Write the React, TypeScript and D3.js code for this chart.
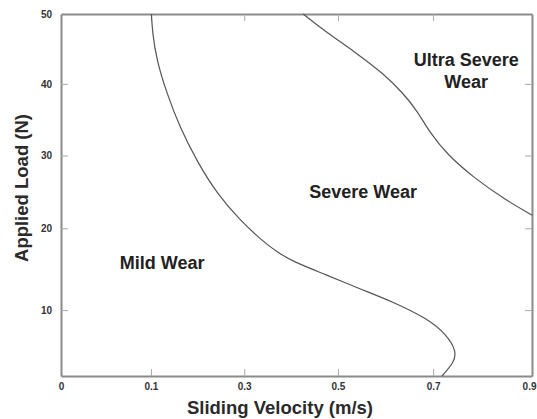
import React, { useEffect, useRef } from 'react';
import * as d3 from 'd3';

// tick values as printed on the original figure (spacing is uneven there)
const velocityTicks = [0, 0.1, 0.3, 0.5, 0.7, 0.9];
const velocityLabels = ['0', '0.1', '0.3', '0.5', '0.7', '0.9'];
const loadTicks = [2, 10, 20, 30, 40, 50];
const loadLabels = ['', '10', '20', '30', '40', '50'];

// boundary between mild and severe wear (velocity m/s, load N)
const mildSevere: [number, number][] = [
  [0.101, 50], [0.103, 47.5], [0.112, 43.4], [0.134, 38.7], [0.162, 33.9], [0.198, 29.3],
  [0.241, 24.8], [0.291, 21.1], [0.338, 18.5], [0.37, 17.1], [0.405, 15.9],
  [0.476, 14.3], [0.546, 12.6], [0.616, 11.0], [0.687, 9.0], [0.728, 7.0],
  [0.747, 5.0], [0.743, 3.7], [0.718, 2],
];

// boundary between severe and ultra severe wear
const severeUltra: [number, number][] = [
  [0.426, 50], [0.469, 47.7], [0.539, 44.4], [0.595, 41.5], [0.637, 38.7],
  [0.666, 36.3], [0.694, 33.1], [0.728, 30.2], [0.781, 27.0], [0.849, 23.8],
  [0.9, 21.8],
];

const regions = [
  { lines: ['Mild Wear'], v: 0.124, load: 15.0 },
  { lines: ['Severe Wear'], v: 0.553, load: 24.2 },
  { lines: ['Ultra Severe', 'Wear'], v: 0.767, load: 42.5 },
];

const W = 537;
const H = 419;
const margin = { top: 14, right: 5, bottom: 43, left: 61 };
const font = 'Liberation Sans, Arial, sans-serif';

const WearMap = () => {
  const ref = useRef<SVGSVGElement>(null);

  useEffect(() => {
    const svg = d3.select(ref.current);
    svg.selectAll('*').remove();

    const iw = W - margin.left - margin.right;
    const ih = H - margin.top - margin.bottom;

    // piecewise scales reproduce the uneven tick spacing of the figure
    const x = d3
      .scaleLinear()
      .domain(velocityTicks)
      .range([0, 0.191, 0.389, 0.588, 0.79, 1].map(f => margin.left + f * iw));
    const y = d3
      .scaleLinear()
      .domain(loadTicks)
      .range([1, 0.818, 0.592, 0.391, 0.193, 0].map(f => margin.top + f * ih));

    const axisColor = '#8a8a8a';
    const g = svg.append('g');

    const styleAxis = sel => {
      sel.select('.domain').attr('stroke', axisColor).attr('stroke-width', 2);
      sel.selectAll('.tick line').attr('stroke', '#aaa').attr('stroke-width', 1);
      sel.selectAll('.tick text')
        .attr('fill', '#333')
        .attr('font-family', font)
        .attr('font-weight', 'bold')
        .attr('font-size', 10);
    };

    const inner = velocityTicks.slice(1, -1);
    const innerLoad = loadTicks.slice(1, -1);

    g.append('g')
      .attr('transform', `translate(0,${margin.top + ih})`)
      .call(
        d3.axisBottom(x)
          .tickValues(velocityTicks)
          .tickSize(-7)
          .tickPadding(6)
          .tickFormat((d, i) => velocityLabels[i])
          .tickSizeOuter(0)
      )
      .call(styleAxis)
      .call(s => s.selectAll('.tick').filter(d => !inner.includes(d)).select('line').remove())
      .call(s => s.selectAll('.tick text').attr('dy', '0.71em').attr('y', 7))
      // last label sits on the right edge; keep it inside the picture
      .call(s => s.selectAll('.tick').filter(d => d === 0.9).select('text')
        .attr('text-anchor', 'end').attr('x', 4));

    g.append('g')
      .attr('transform', `translate(${margin.left},0)`)
      .call(
        d3.axisLeft(y)
          .tickValues(loadTicks)
          .tickSize(-7)
          .tickPadding(9)
          .tickFormat((d, i) => loadLabels[i])
          .tickSizeOuter(0)
      )
      .call(styleAxis)
      .call(s => s.selectAll('.tick').filter(d => !innerLoad.includes(d)).select('line').remove());

    g.append('g')
      .attr('transform', `translate(0,${margin.top})`)
      .call(d3.axisTop(x).tickValues(inner).tickSize(-7).tickFormat(() => '').tickSizeOuter(0))
      .call(styleAxis);

    g.append('g')
      .attr('transform', `translate(${margin.left + iw},0)`)
      .call(d3.axisRight(y).tickValues(innerLoad).tickSize(-7).tickFormat(() => '').tickSizeOuter(0))
      .call(styleAxis);

    const line = d3
      .line<[number, number]>()
      .x(d => x(d[0]))
      .y(d => y(d[1]))
      .curve(d3.curveBasis);

    [mildSevere, severeUltra].forEach(pts => {
      svg.append('path')
        .attr('d', line(pts))
        .attr('fill', 'none')
        .attr('stroke', '#555')
        .attr('stroke-width', 1.2);
    });

    regions.forEach(r => {
      const t = svg.append('text')
        .attr('x', x(r.v))
        .attr('y', y(r.load))
        .attr('text-anchor', 'middle')
        .attr('font-family', font)
        .attr('font-weight', 'bold')
        .attr('font-size', 18)
        .attr('fill', '#222');
      r.lines.forEach((l, i) => {
        t.append('tspan').attr('x', x(r.v)).attr('dy', i === 0 ? 0 : 21.5).text(l);
      });
    });

    svg.append('text')
      .attr('x', 280)
      .attr('y', 414)
      .attr('text-anchor', 'middle')
      .attr('font-family', font)
      .attr('font-weight', 'bold')
      .attr('font-size', 18.5)
      .attr('fill', '#2a2a2a')
      .text('Sliding Velocity (m/s)');

    svg.append('text')
      .attr('transform', `translate(28,${188}) rotate(-90)`)
      .attr('text-anchor', 'middle')
      .attr('font-family', font)
      .attr('font-weight', 'bold')
      .attr('font-size', 18.5)
      .attr('fill', '#2a2a2a')
      .text('Applied Load (N)');
  }, []);

  return (
    <svg
      ref={ref}
      width={W}
      height={H}
      style={{ position: 'absolute', left: 0, top: 0, background: '#fff' }}
    ></svg>
  );
};

export default function App() {
  return <WearMap />;
}
